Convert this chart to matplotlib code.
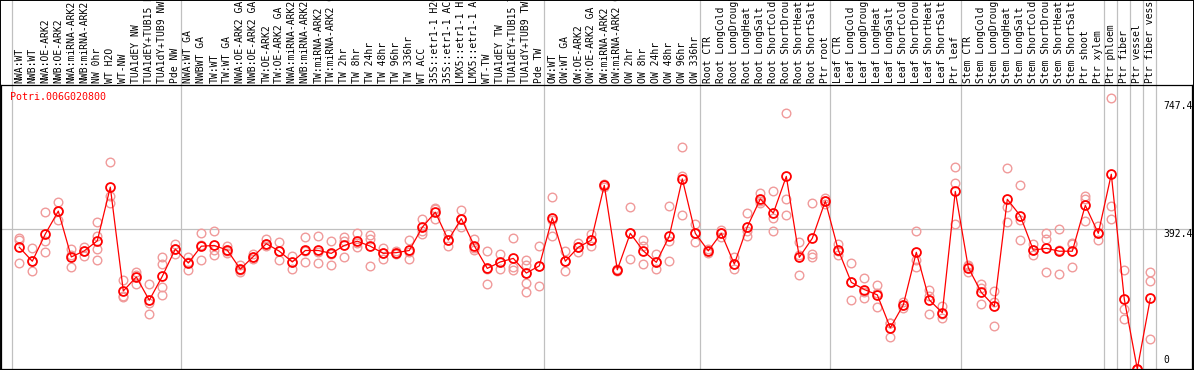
import matplotlib
matplotlib.use("Agg")
import matplotlib.pyplot as plt
from matplotlib.patches import Rectangle

gene = "Potri.006G020800"

labels = [
    "NWA:WT", "NWB:WT", "NWA:OE-ARK2", "NWB:OE-ARK2", "NWA:miRNA-ARK2", "NWB:miRNA-ARK2",
    "NW 0hr", "WT H2O", "WT-NW", "TUA1dEY NW", "TUA1dEY+TUB15 NW", "TUA1dY+TUB9 NW", "Pde NW",
    "NWA:WT GA", "NWBWT GA", "TW:WT", "TW:WT GA", "NWA:OE-ARK2 GA", "NWB:OE-ARK2 GA",
    "TW:OE-ARK2", "TW:OE-ARK2 GA", "NWA:miRNA-ARK2 GA", "NWB:miRNA-ARK2 GA", "TW:miRNA-ARK2",
    "TW:miRNA-ARK2 GA", "TW 2hr", "TW 8hr", "TW 24hr", "TW 48hr", "TW 96hr", "TW 336hr",
    "WT ACC", "35S::etr1-1 H2O", "35S::etr1-1 ACC", "LMX5::etr1-1 H2O", "LMX5::etr1-1 ACC",
    "WT-TW", "TUA1dEY TW", "TUA1dEY+TUB15 TW", "TUA1dY+TUB9 TW", "Pde TW",
    "OW:WT", "OW:WT GA", "OW:OE-ARK2", "OW:OE-ARK2 GA", "OW:miRNA-ARK2", "OW:miRNA-ARK2 GA",
    "OW 2hr", "OW 8hr", "OW 24hr", "OW 48hr", "OW 96hr", "OW 336hr",
    "Root CTR", "Root LongCold", "Root LongDrought", "Root LongHeat", "Root LongSalt",
    "Root ShortCold", "Root ShortDrought", "Root ShortHeat", "Root ShortSalt", "Ptr root",
    "Leaf CTR", "Leaf LongCold", "Leaf LongDrought", "Leaf LongHeat", "Leaf LongSalt",
    "Leaf ShortCold", "Leaf ShortDrought", "Leaf ShortHeat", "Leaf ShortSalt", "Ptr leaf",
    "Stem CTR", "Stem LongCold", "Stem LongDrought", "Stem LongHeat", "Stem LongSalt",
    "Stem ShortCold", "Stem ShortDrought", "Stem ShortHeat", "Stem ShortSalt", "Ptr shoot",
    "Ptr xylem", "Ptr phloem", "Ptr fiber", "Ptr vessel", "Ptr fiber vessel",
]

means = [
    340, 301, 377, 441, 313, 330, 358, 508, 218, 257, 192, 259, 335,
    296, 343, 345, 332, 279, 314, 350, 329, 299, 331, 331, 323, 345, 357, 343, 323, 325,
    331, 396, 438, 360, 420, 344, 281, 299, 309, 268, 288,
    422, 301, 340, 360, 513, 277, 379, 330, 298, 371, 531, 379,
    330, 379, 293, 397, 475, 435, 538, 312, 365, 469,
    332, 242, 222, 207, 115, 179, 326, 193, 157, 496,
    283, 214, 175, 474, 428, 332, 337, 329, 329, 457, 379,
    544, 195, 0, 197,
]

reps = [
    [365, 360, 295], [338, 301, 274], [438, 358, 326], [466, 441, 415], [335, 318, 285],
    [342, 330, 317], [411, 371, 334, 304], [577, 484, 463], [248, 204, 202], [272, 262, 237],
    [237, 183, 154], [314, 293, 229, 207], [348, 336, 321],
    [314, 298, 276], [379, 346, 304], [385, 332, 318], [344, 330, 323], [290, 276, 272],
    [320, 314, 308], [362, 348, 343], [355, 329, 305], [316, 300, 280], [368, 330, 298],
    [371, 328, 295], [358, 322, 290], [370, 358, 313], [381, 351, 342], [375, 364, 288],
    [337, 325, 306], [330, 325, 320], [360, 328, 306], [419, 386, 377], [449, 446, 418],
    [376, 360, 344], [444, 420, 396], [362, 337, 333], [329, 278, 237], [321, 299, 278],
    [366, 286, 276], [304, 290, 268, 240, 215], [344, 288, 232],
    [480, 416, 371], [329, 301, 273], [353, 340, 327], [377, 360, 344], [518, 513, 508],
    [280, 277, 274], [452, 379, 306], [360, 344, 293], [321, 298, 278], [455, 358, 301],
    [619, 540, 429], [404, 379, 354],
    [335, 330, 325], [388, 379, 370], [314, 293, 278], [436, 385, 371], [492, 468, 465],
    [497, 421, 385], [714, 474, 429], [356, 318, 262], [463, 320, 312], [478, 470, 462],
    [349, 330, 318], [296, 242, 192], [253, 215, 197], [235, 212, 172], [128, 128, 89],
    [188, 179, 169], [385, 304, 286], [221, 205, 154], [176, 155, 142], [563, 519, 404],
    [290, 288, 270], [237, 225, 181], [218, 188, 119], [560, 452, 411], [513, 416, 359],
    [348, 332, 318], [379, 362, 270], [390, 333, 264], [352, 350, 285], [483, 476, 412],
    [400, 379, 359],
    [756, 454, 418], [276, 168, 140], [0, 0, 0], [270, 246, 84],
]

# last sample index of each group (separator drawn just after it)
group_ends = [-1, 12, 40, 52, 62, 72, 83, 84, 85, 86, 87]
scale_marks = [747.4, 392.4, 0]

W, H = 1194, 370
fig = plt.figure(figsize=(W / 100, H / 100), dpi=100)
ax = fig.add_axes([1 / W, 1 / H, 1191 / W, 284 / H])

x = list(range(len(means)))
step = 13.0
ax.set_xlim((1 - 19.3) / step, (1192 - 19.3) / step)
ax.set_ylim(0, 284 * 2.793)

# group separators run up through the label area
for g in group_ends:
    ax.axvline(g + 0.4, 0, 1.3, color="#c0c0c0", lw=0.9, clip_on=False, zorder=0)
ax.axhline(scale_marks[1], color="#c0c0c0", lw=0.9, zorder=0)

for i, r in enumerate(reps):
    ax.plot([i] * len(r), r, "o", ms=6.2, mfc="none", mec="#f09a9a", mew=1.0,
            zorder=2, clip_on=False)
ax.plot(x, means, "-", color="red", lw=0.9, zorder=3)
ax.plot(x, means, "o", ms=6.4, mfc="none", mec="red", mew=1.3, zorder=4, clip_on=False)

lab_tr = ax.get_xaxis_transform()
for i, name in enumerate(labels):
    ax.text(i, 1.006, name, rotation=90, ha="center", va="bottom",
            fontsize=7, family="DejaVu Sans Mono", transform=lab_tr)

ax.text(9 / 1191, 0.958, gene, color="red", fontsize=7.2, family="DejaVu Sans Mono",
        ha="left", va="center", transform=ax.transAxes)

ytr = ax.get_yaxis_transform()
xr = (1163 - 1) / 1191
ax.text(xr, scale_marks[0], "747.4", ha="left", va="top", fontsize=7,
        family="DejaVu Sans Mono", transform=ytr)
ax.text(xr, scale_marks[1], "392.4", ha="left", va="top", fontsize=7,
        family="DejaVu Sans Mono", transform=ytr)
ax.text(xr, scale_marks[2] + 10, "0", ha="left", va="bottom", fontsize=7,
        family="DejaVu Sans Mono", transform=ytr)

ax.set_xticks([])
ax.set_yticks([])
for s in ax.spines.values():
    s.set_linewidth(0.9)
    s.set_color("black")

fig.patches.append(Rectangle((0, 0), 1, 1, transform=fig.transFigure, fill=False,
                             edgecolor="black", lw=1.4))

fig.savefig("out.png", dpi=100)
